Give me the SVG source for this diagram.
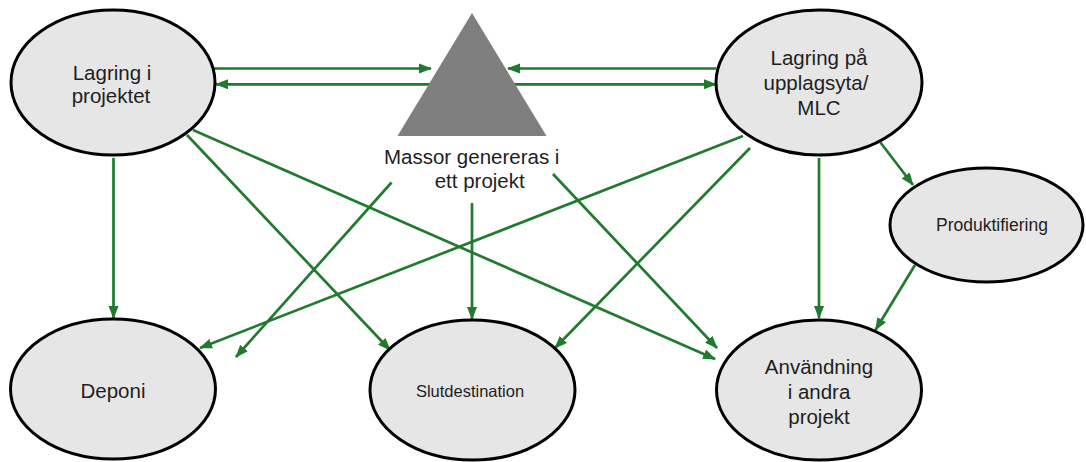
<svg xmlns="http://www.w3.org/2000/svg" width="1086" height="462" viewBox="0 0 1086 462">
<style>
.node{fill:#e6e6e6;stroke:#000;stroke-width:3}
.lbl{font-family:"Liberation Sans",Arial,sans-serif;font-size:20.5px;fill:#1e1e1e;text-anchor:middle}
.sm{font-size:16.5px}
.pr{font-size:17.5px}
.conn line{stroke:#217a2d;stroke-width:2.7;fill:none;marker-end:url(#ah)}
</style>
<defs>
<marker id="ah" markerUnits="userSpaceOnUse" markerWidth="13" markerHeight="11" refX="12" refY="5.5" orient="auto">
<path d="M0,0.5 L13,5.5 L0,10.5 z" fill="#217a2d"/>
</marker>
</defs>
<rect width="1086" height="462" fill="#fff"/>
<g id="connectors" class="conn">
<line x1="213" y1="68.5" x2="431" y2="68.5"/>
<line x1="431" y1="84.3" x2="216" y2="84.3"/>
<line x1="716" y1="68.5" x2="508" y2="68.5"/>
<line x1="513" y1="84.3" x2="716" y2="84.3"/>
<line x1="113.5" y1="158" x2="113.5" y2="318"/>
<line x1="187" y1="135" x2="390" y2="350"/>
<line x1="193" y1="130" x2="715" y2="359"/>
<line x1="391.5" y1="182.5" x2="236" y2="357"/>
<line x1="472" y1="203" x2="472" y2="319"/>
<line x1="553" y1="174" x2="717" y2="348"/>
<line x1="743" y1="136" x2="200" y2="348"/>
<line x1="750" y1="148" x2="555" y2="348"/>
<line x1="819" y1="158" x2="819" y2="318"/>
<line x1="880.5" y1="142.5" x2="913" y2="185"/>
<line x1="915" y1="265" x2="875.5" y2="330"/>
</g>
<g id="lagring-projektet">
<ellipse class="node" cx="113" cy="82.5" rx="102" ry="72.5"/>
<text class="lbl" x="112" y="80">Lagring i</text>
<text class="lbl" x="111" y="103">projektet</text>
</g>
<g id="massor">
<polygon points="472,13 546.5,136 397.5,136" fill="#7f7f7f"/>
<text class="lbl" x="471.7" y="164">Massor genereras i</text>
<text class="lbl" x="479.7" y="188">ett projekt</text>
</g>
<g id="lagring-mlc">
<ellipse class="node" cx="819" cy="82.5" rx="103" ry="72.5"/>
<text class="lbl" x="819" y="65">Lagring på</text>
<text class="lbl" x="816" y="90">upplagsyta/</text>
<text class="lbl" x="819" y="115">MLC</text>
</g>
<g id="produktifiering">
<ellipse class="node" cx="986.5" cy="225" rx="96.5" ry="57"/>
<text class="lbl pr" x="992" y="231">Produktifiering</text>
</g>
<g id="deponi">
<ellipse class="node" cx="113" cy="389" rx="102.5" ry="70"/>
<text class="lbl" x="113" y="398">Deponi</text>
</g>
<g id="slutdestination">
<ellipse class="node" cx="472.5" cy="390" rx="102.5" ry="70"/>
<text class="lbl sm" x="470" y="397">Slutdestination</text>
</g>
<g id="anvandning">
<ellipse class="node" cx="819" cy="390" rx="102.5" ry="70"/>
<text class="lbl" x="819" y="374">Användning</text>
<text class="lbl" x="819" y="399">i andra</text>
<text class="lbl" x="819" y="424">projekt</text>
</g>
</svg>
